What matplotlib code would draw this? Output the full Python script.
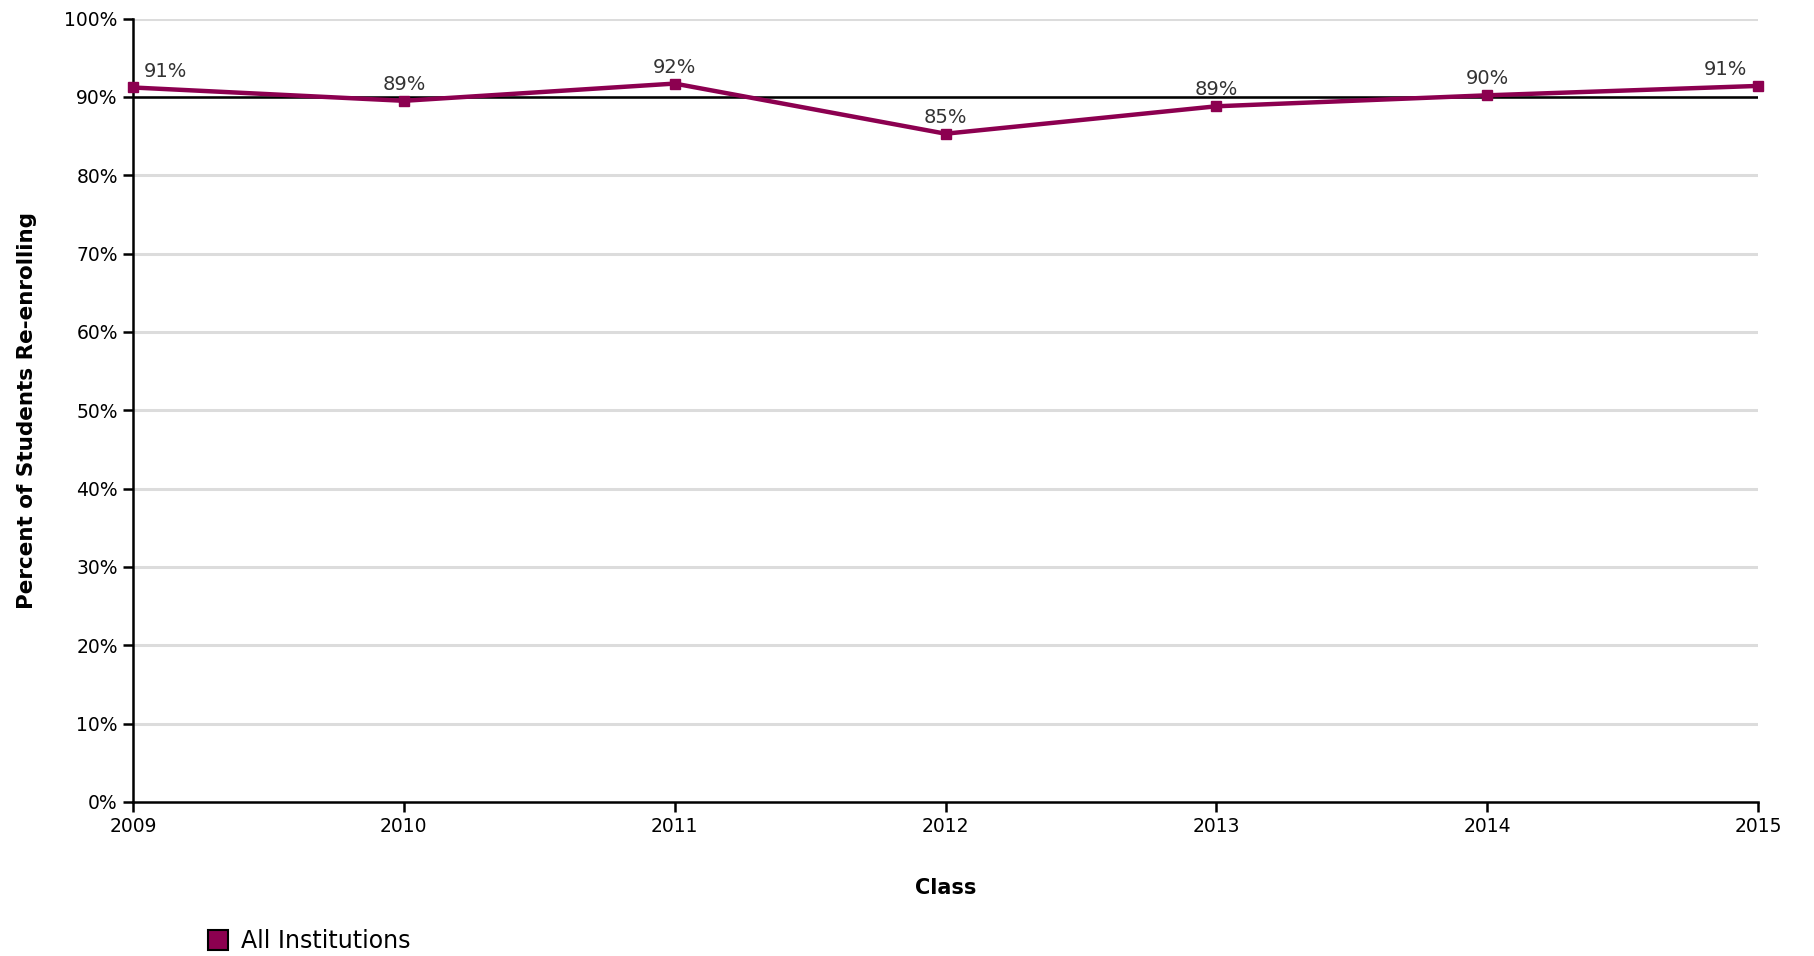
import matplotlib.pyplot as plt
from matplotlib.patches import Rectangle

years = [2009, 2010, 2011, 2012, 2013, 2014, 2015]
rates = [91.2, 89.5, 91.7, 85.3, 88.8, 90.2, 91.4]
labels = ['91%', '89%', '92%', '85%', '89%', '90%', '91%']
y_ticks = list(range(0, 101, 10))

line_color = '#8C0050'

fig = plt.figure(figsize=(18.15, 9.56), dpi=100)
ax = fig.add_axes([0.0733, 0.1611, 0.8953, 0.8195])

ax.set_xlim(years[0], years[-1])
ax.set_ylim(0, 100)
ax.set_yticks(y_ticks)
ax.set_yticklabels([f'{t}%' for t in y_ticks])
ax.set_xticks(years)

# gridlines
for t in y_ticks[1:]:
    ax.axhline(t, color='#dcdcdc', lw=2.2, zorder=0)
ax.axhline(90, color='black', lw=1.8, zorder=1)

ax.plot(years, rates, color=line_color, lw=3.2, marker='s', markersize=7,
        markeredgecolor=line_color, solid_joinstyle='miter', clip_on=False, zorder=3)

for i, (x, y, lab) in enumerate(zip(years, rates, labels)):
    if i == 0:
        dx, ha = 8, 'left'
    elif i == len(years) - 1:
        dx, ha = -8, 'right'
    else:
        dx, ha = 0, 'center'
    ax.annotate(lab, (x, y), xytext=(dx, 5), textcoords='offset points',
                ha=ha, va='bottom', fontsize=14, color='#333333')

for side in ['top', 'right']:
    ax.spines[side].set_visible(False)
for side in ['left', 'bottom']:
    ax.spines[side].set_linewidth(1.8)
ax.tick_params(axis='both', direction='out', length=7, width=1.8, labelsize=13.5, pad=4)

ax.set_xlabel('Class', fontsize=15, fontweight='bold', labelpad=30)
ax.set_ylabel('Percent of Students Re-enrolling', fontsize=15.5, fontweight='bold', labelpad=20)

# legend
fig.patches.append(Rectangle((208 / 1815, 1 - 950 / 956), 20 / 1815, 20 / 956,
                             transform=fig.transFigure, facecolor=line_color,
                             edgecolor='black', lw=1.5))
fig.text(241 / 1815, 1 - 941 / 956, 'All Institutions', fontsize=17, va='center')

fig.savefig('out.png', dpi=100)
